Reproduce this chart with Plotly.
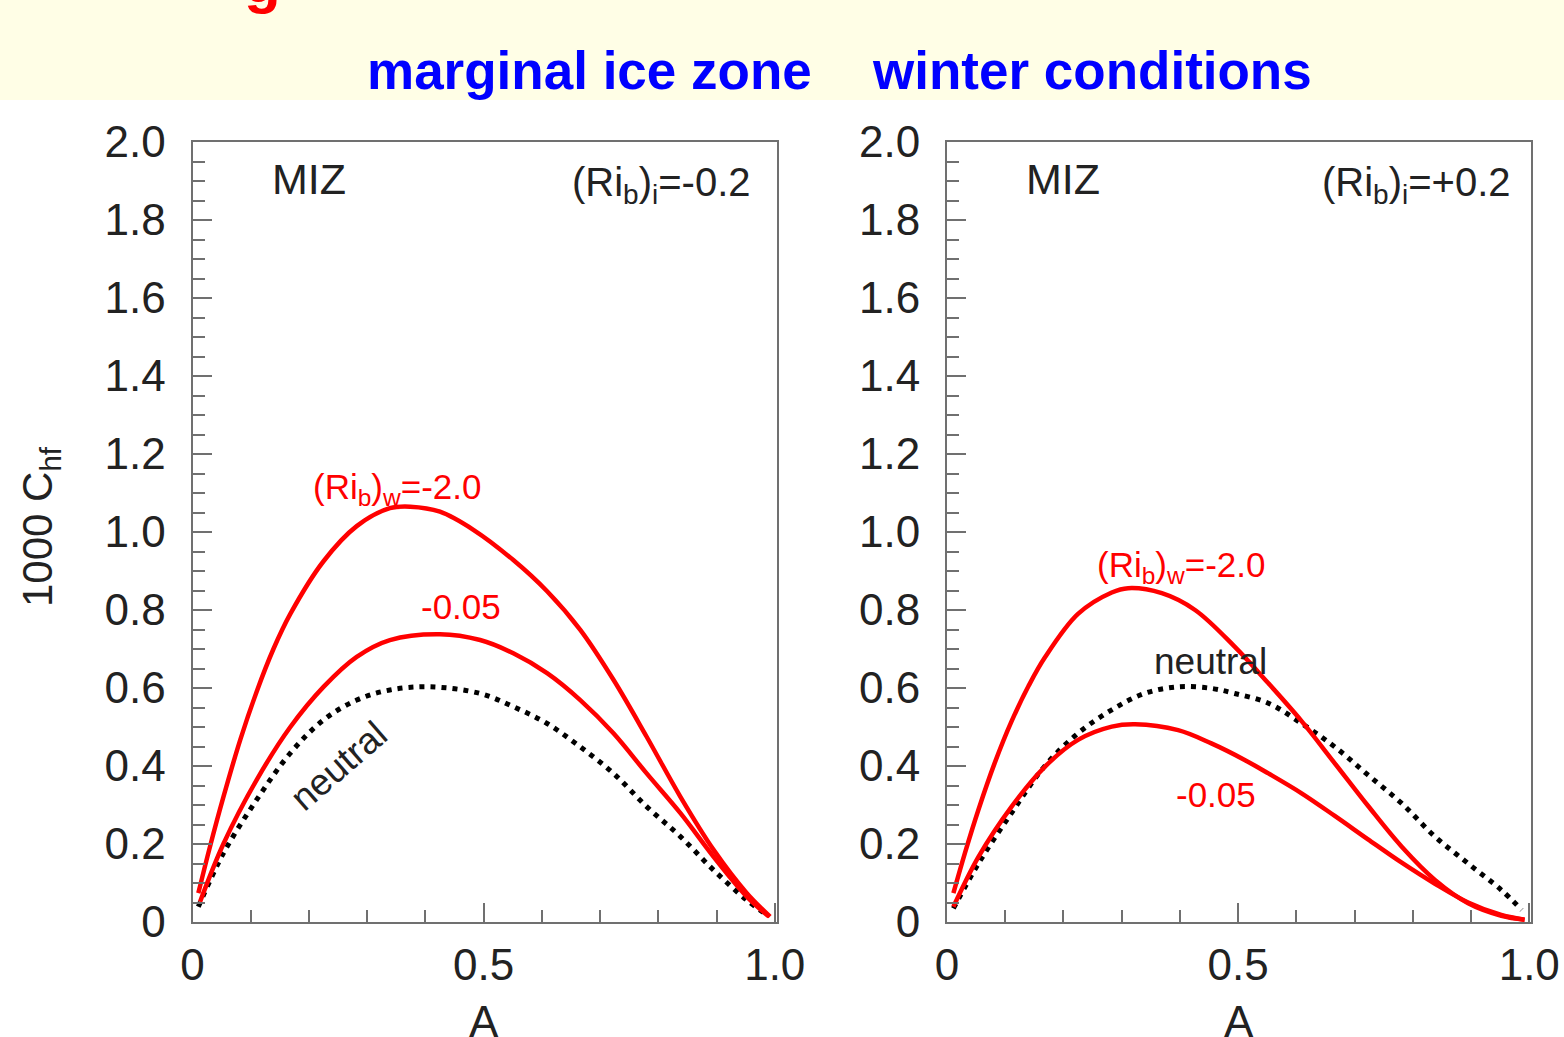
import plotly.graph_objects as go

W, H = 1564, 1037

# ---------------- data ----------------
# Left panel: (Ri_b)_i = -0.2
A_L_m20 = [0.01, 0.03, 0.053, 0.082, 0.11, 0.139, 0.168, 0.225, 0.282, 0.339, 0.374, 0.425,
           0.483, 0.551, 0.609, 0.666, 0.723, 0.780, 0.838, 0.895, 0.952, 0.992]
C_L_m20 = [0.074, 0.193, 0.32, 0.467, 0.59, 0.70, 0.79, 0.925, 1.015, 1.061, 1.065, 1.052,
           1.005, 0.928, 0.848, 0.749, 0.621, 0.475, 0.321, 0.185, 0.074, 0.014]

A_L_m005 = [0.013, 0.053, 0.11, 0.168, 0.225, 0.282, 0.339, 0.425, 0.494, 0.551, 0.609,
            0.666, 0.723, 0.780, 0.838, 0.895, 0.952, 0.99]
C_L_m005 = [0.052, 0.20, 0.364, 0.50, 0.603, 0.68, 0.723, 0.738, 0.723, 0.689, 0.638,
            0.569, 0.484, 0.381, 0.279, 0.167, 0.065, 0.014]

A_L_neu = [0.01, 0.053, 0.11, 0.168, 0.225, 0.282, 0.339, 0.408, 0.494, 0.551, 0.609,
           0.666, 0.723, 0.780, 0.838, 0.895, 0.952, 0.987]
C_L_neu = [0.039, 0.176, 0.313, 0.433, 0.518, 0.569, 0.595, 0.603, 0.586, 0.552, 0.509,
           0.449, 0.381, 0.296, 0.219, 0.133, 0.056, 0.018]

# Right panel: (Ri_b)_i = +0.2
A_R_m20 = [0.011, 0.031, 0.054, 0.082, 0.111, 0.14, 0.168, 0.225, 0.283, 0.311, 0.369, 0.426,
           0.494, 0.552, 0.609, 0.666, 0.723, 0.781, 0.838, 0.895, 0.952, 0.992]
C_R_m20 = [0.074, 0.178, 0.288, 0.408, 0.515, 0.605, 0.678, 0.79, 0.845, 0.856, 0.843, 0.80,
           0.706, 0.612, 0.515, 0.407, 0.298, 0.193, 0.108, 0.048, 0.016, 0.006]

A_R_m005 = [0.011, 0.054, 0.111, 0.168, 0.225, 0.283, 0.323, 0.397, 0.454, 0.512, 0.552,
            0.609, 0.666, 0.723, 0.781, 0.838, 0.895, 0.952, 0.992]
C_R_m005 = [0.039, 0.167, 0.296, 0.398, 0.467, 0.501, 0.507, 0.492, 0.458, 0.415, 0.381,
            0.33, 0.272, 0.212, 0.152, 0.098, 0.05, 0.018, 0.006]

A_R_neu = [0.011, 0.054, 0.111, 0.168, 0.225, 0.283, 0.339, 0.397, 0.454, 0.494, 0.552,
           0.609, 0.666, 0.723, 0.781, 0.838, 0.895, 0.952, 0.987]
C_R_neu = [0.035, 0.15, 0.28, 0.40, 0.484, 0.544, 0.586, 0.603, 0.599, 0.586, 0.561,
           0.509, 0.449, 0.377, 0.304, 0.219, 0.150, 0.082, 0.031]

y_tickvals = [0, 0.2, 0.4, 0.6, 0.8, 1.0, 1.2, 1.4, 1.6, 1.8, 2.0]
y_ticktext = ["0", "0.2", "0.4", "0.6", "0.8", "1.0", "1.2", "1.4", "1.6", "1.8", "2.0"]
x_tickvals = [0, 0.5, 1.0]
x_ticktext = ["0", "0.5", "1.0"]

titles = ["marginal ice zone", "winter conditions"]
ri_i_labels = ["(Ri<sub>b</sub>)<sub>i</sub>=-0.2", "(Ri<sub>b</sub>)<sub>i</sub>=+0.2"]

# ---------------- styling ----------------
FONT = "Liberation Sans, Arial, Helvetica, sans-serif"
TXT = "#222222"
RED = "#ff0000"
BLUE = "#0000ff"
AXC = "#707070"


def px_x(p):
    return p / W


def px_y(p):
    return 1 - p / H


fig = go.Figure()

red_line = dict(color=RED, width=4.5)
dot_line = dict(color="black", width=5, dash="5px,6px")

for (ax, ay), series in [
    (("x", "y"), [(A_L_neu, C_L_neu, dot_line), (A_L_m005, C_L_m005, red_line), (A_L_m20, C_L_m20, red_line)]),
    (("x2", "y2"), [(A_R_neu, C_R_neu, dot_line), (A_R_m005, C_R_m005, red_line), (A_R_m20, C_R_m20, red_line)]),
]:
    for xs, ys, ln in series:
        fig.add_trace(go.Scatter(x=xs, y=ys, mode="lines", line=dict(shape="spline", smoothing=1.0, **ln),
                                 xaxis=ax, yaxis=ay, showlegend=False, hoverinfo="skip"))

common_x = dict(range=[0, 1.003], tickmode="array", tickvals=x_tickvals, ticktext=x_ticktext,
                ticks="inside", ticklen=19, tickwidth=1.5, tickcolor=AXC, automargin=False,
                showline=True, linecolor=AXC, linewidth=2, mirror=True,
                showgrid=False, zeroline=False, ticklabelstandoff=3,
                tickfont=dict(family=FONT, size=44, color=TXT),
                minor=dict(tickmode="linear", tick0=0, dtick=0.1, ticks="inside", ticklen=12,
                           tickwidth=1.5, tickcolor=AXC, showgrid=False))
common_y = dict(range=[0, 2.0], tickmode="array", tickvals=y_tickvals, ticktext=y_ticktext,
                ticks="inside", ticklen=19, tickwidth=1.5, tickcolor=AXC, automargin=False,
                showline=True, linecolor=AXC, linewidth=2, mirror=True,
                showgrid=False, zeroline=False, ticklabelstandoff=16,
                tickfont=dict(family=FONT, size=44, color=TXT),
                minor=dict(tickmode="linear", tick0=0, dtick=0.05, ticks="inside", ticklen=12,
                           tickwidth=1.5, tickcolor=AXC, showgrid=False))

ydom = [px_y(922), px_y(142)]
fig.update_layout(
    width=W, height=H, margin=dict(l=0, r=0, t=0, b=0, pad=0, autoexpand=False),
    paper_bgcolor="white", plot_bgcolor="white",
    xaxis=dict(domain=[px_x(192.5), px_x(776.5)], anchor="y", **common_x),
    yaxis=dict(domain=ydom, anchor="x", **common_y),
    xaxis2=dict(domain=[px_x(947), px_x(1531)], anchor="y2", **common_x),
    yaxis2=dict(domain=ydom, anchor="x2", **common_y),
)

# header band
fig.add_shape(type="rect", xref="paper", yref="paper", x0=0, x1=1, y0=px_y(100), y1=1,
              fillcolor="#fffee6", line=dict(width=0), layer="below")

ann = []
# partly visible red heading (cut off at top)
ann.append(dict(text="<b>g</b>", xref="paper", yref="paper", x=px_x(262), y=px_y(-18),
                xanchor="center", yanchor="middle", showarrow=False,
                font=dict(family=FONT, size=60, color=RED)))
# blue titles
for t, cx in zip(titles, [589, 1091.5]):
    ann.append(dict(text="<b>%s</b>" % t, xref="paper", yref="paper", x=px_x(cx), y=px_y(70),
                    xanchor="center", yanchor="middle", showarrow=False,
                    font=dict(family=FONT, size=53, color=BLUE)))

# y axis title
ann.append(dict(text="1000 C<sub>hf</sub>", xref="paper", yref="paper", x=px_x(40), y=px_y(527),
                xanchor="center", yanchor="middle", textangle=-90, showarrow=False,
                font=dict(family=FONT, size=42, color=TXT)))
# x axis titles
for cx in [484, 1239]:
    ann.append(dict(text="A", xref="paper", yref="paper", x=px_x(cx), y=px_y(1021),
                    xanchor="center", yanchor="middle", showarrow=False,
                    font=dict(family=FONT, size=44, color=TXT)))

ri_x = [0.962, 0.972]
for i, (xr, yr) in enumerate([("x", "y"), ("x2", "y2")]):
    ann.append(dict(text="MIZ", xref=xr, yref=yr, x=0.20, y=1.905, xanchor="center", yanchor="middle",
                    showarrow=False, font=dict(family=FONT, size=43, color=TXT)))
    ann.append(dict(text=ri_i_labels[i], xref=xr, yref=yr, x=ri_x[i], y=1.89, xanchor="right",
                    yanchor="middle", showarrow=False, font=dict(family=FONT, size=40, color=TXT)))

# left panel curve labels
ann.append(dict(text="(Ri<sub>b</sub>)<sub>w</sub>=-2.0", xref="x", yref="y", x=0.351, y=1.11,
                xanchor="center", yanchor="middle", showarrow=False, font=dict(family=FONT, size=35, color=RED)))
ann.append(dict(text="-0.05", xref="x", yref="y", x=0.461, y=0.808,
                xanchor="center", yanchor="middle", showarrow=False, font=dict(family=FONT, size=35, color=RED)))
ann.append(dict(text="neutral", xref="x", yref="y", x=0.25, y=0.40, textangle=-41,
                xanchor="center", yanchor="middle", showarrow=False, font=dict(family=FONT, size=37, color=TXT)))
# right panel curve labels
ann.append(dict(text="(Ri<sub>b</sub>)<sub>w</sub>=-2.0", xref="x2", yref="y2", x=0.402, y=0.91,
                xanchor="center", yanchor="middle", showarrow=False, font=dict(family=FONT, size=35, color=RED)))
ann.append(dict(text="neutral", xref="x2", yref="y2", x=0.452, y=0.667,
                xanchor="center", yanchor="middle", showarrow=False, font=dict(family=FONT, size=37, color=TXT)))
ann.append(dict(text="-0.05", xref="x2", yref="y2", x=0.462, y=0.326,
                xanchor="center", yanchor="middle", showarrow=False, font=dict(family=FONT, size=35, color=RED)))

fig.update_layout(annotations=ann)

fig.write_html("out.html")
